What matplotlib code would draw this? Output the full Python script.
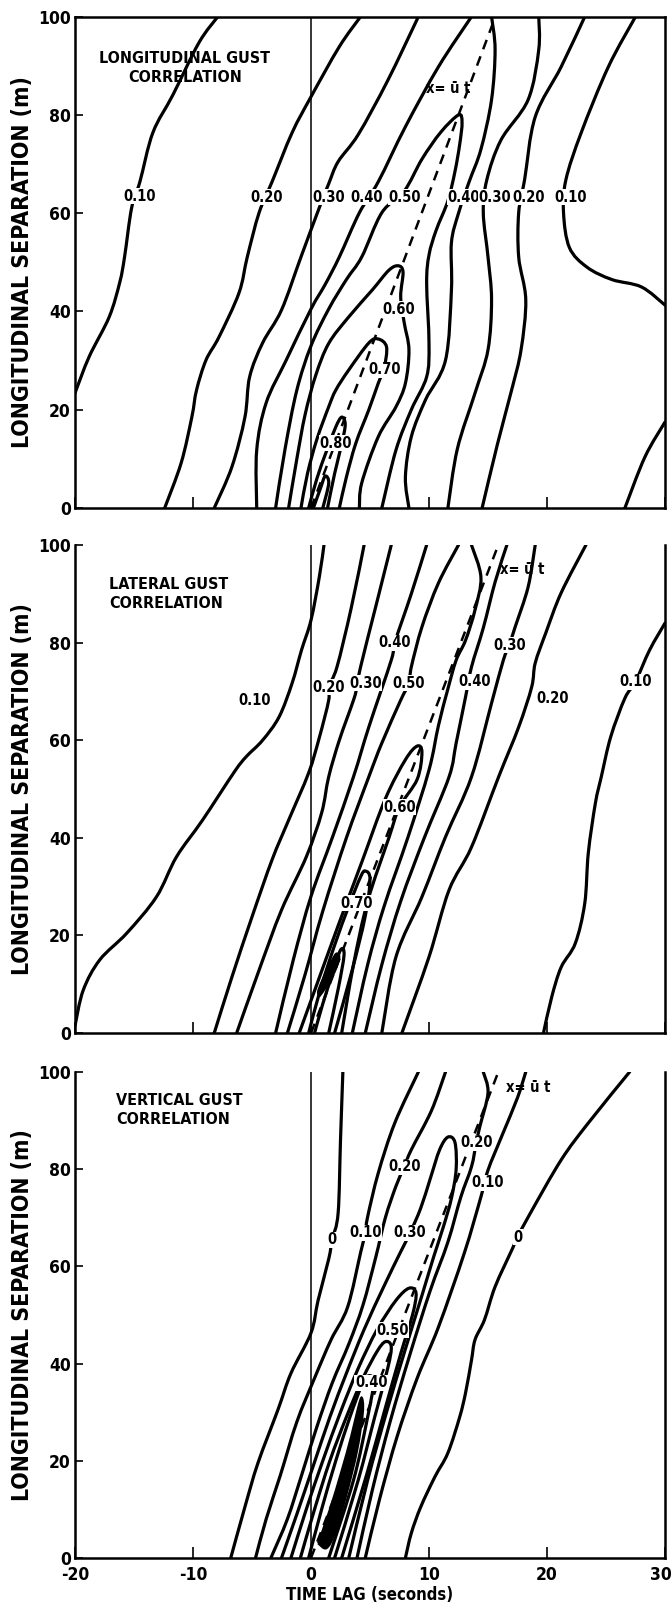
import matplotlib
matplotlib.use("Agg")
import numpy as np
import matplotlib.pyplot as plt
from matplotlib.path import Path
from matplotlib.patches import PathPatch
from matplotlib.transforms import ScaledTranslation

plt.rcParams["font.family"] = ["DejaVu Sans"]
plt.rcParams["font.weight"] = "bold"
plt.rcParams["font.stretch"] = "condensed"

# ---------------- longitudinal gust correlation (t [s], x [m]) ----------------
lon_010_a = [(-7.9, 100), (-9.5, 94.7), (-11.7, 84.1), (-13.4, 76.4), (-14.5, 66.4), (-15.2, 61.1),
             (-15.8, 51.1), (-16.2, 46), (-17.1, 38.9), (-18.8, 30.8), (-20, 23.4)]
lon_010_b = [(27.5, 100), (25.2, 89.8), (22.9, 76.4), (21.6, 66.8), (21.4, 60.1), (21.9, 53),
             (23.4, 49), (25.5, 46.5), (28, 45), (30, 41.3)]
lon_010_c = [(30, 17.5), (28.3, 10.4), (26.6, 0)]
lon_020_a = [(4.2, 100), (2.4, 93.9), (0, 83.7), (-1.6, 76.4), (-3.3, 66.4), (-4.4, 60.1), (-5.4, 51.1),
             (-6.1, 43.8), (-7.8, 34.8), (-8.9, 30.1), (-9.7, 24), (-10.1, 18.5), (-11, 9.2), (-12.4, 0)]
lon_020_b = [(23.2, 100), (21.2, 89.8), (19, 79.6), (18.1, 66.8), (17.6, 60.1), (17.6, 51.1), (18.2, 42.4),
             (17.8, 32.2), (17.0, 24), (15.8, 13), (14.5, 0)]
lon_030_a = [(9.1, 100), (6.5, 87), (4.0, 76), (2.3, 70.5), (1.5, 66), (0.7, 61.1), (-0.85, 51.1),
             (-2.5, 40.3), (-4.1, 33.6), (-5.2, 26.7), (-5.6, 18.5), (-6.7, 8.4), (-8.2, 0)]
lon_030_b = [(19.3, 100), (19.3, 93.3), (18.4, 83.1), (16.1, 74.9), (14.9, 66.8), (14.6, 60.1), (15, 51.1),
             (15.3, 42.4), (15, 32.2), (13.9, 23.4), (12.4, 12), (11.6, 0)]
lon_040_a = [(13.6, 100), (10.8, 89.8), (8.0, 77.6), (5.7, 66.4), (4.1, 60.1), (2.4, 51.1), (1.2, 45.5),
             (0, 40.5), (-2.1, 30.1), (-3.8, 21.4), (-4.6, 11.8), (-4.6, 0)]
lon_040_b = [(15.3, 100), (15.6, 93.3), (15.3, 83.1), (14.4, 73), (13.4, 66.4), (12.5, 60), (11.9, 54),
             (11.9, 44.4), (11.4, 30.1), (9.7, 22), (8.5, 14.5), (8.0, 6.3), (8.3, 0)]
lon_050 = [(-3.0, 0), (-2.2, 12), (-1.2, 24), (0, 33), (1.5, 40.5), (3.0, 46.5), (4.3, 51.1), (6.0, 60.1),
           (7.9, 64.5), (9.4, 71), (11.0, 76.5), (12.5, 80), (12.8, 78.5), (12.6, 74), (12.2, 68.5),
           (11.6, 62.5), (10.6, 56.5), (10, 51.5), (9.8, 45.8), (10, 33.6), (9.8, 26.7), (8.5, 20),
           (7.2, 11.8), (6.0, 0)]
lon_060 = [(-1.9, 0), (-1.2, 10), (-0.5, 19), (0.4, 27), (1.5, 33.5), (3.2, 38.9), (5.2, 44.4), (6.6, 48.4),
           (7.4, 49.3), (7.8, 48), (7.6, 43), (7.9, 37.7), (8.3, 32.2), (8.0, 25.4), (7.2, 20.6), (5.7, 14.5),
           (4.3, 5.1), (4.1, 0)]
lon_070 = [(-0.85, 0), (-0.3, 7), (0.5, 14), (1.5, 20.6), (2.1, 24), (3.2, 28.1), (4.9, 33.6), (5.7, 34.4),
           (6.4, 32.8), (6.2, 28.5), (5.7, 25.4), (4.9, 20), (3.8, 13.2), (3.0, 6.3), (2.4, 0)]
lon_080 = [(-0.2, 0), (0.5, 6), (1.3, 11.5), (2.1, 16.5), (2.6, 18.5), (2.9, 17), (2.6, 13), (2.0, 7), (1.4, 0)]
lon_090 = [(0.2, 0), (0.8, 4), (1.2, 6.5), (1.5, 5), (1.0, 0)]
lon_labels = [("0.10", -14.5, 63.5), ("0.20", -3.8, 63.3), ("0.30", 1.5, 63.3), ("0.40", 4.7, 63.3),
              ("0.50", 7.9, 63.3), ("0.40", 12.9, 63.3), ("0.30", 15.6, 63.3), ("0.20", 18.4, 63.3),
              ("0.10", 22.0, 63.3), ("0.60", 7.4, 40.5), ("0.70", 6.2, 28.1), ("0.80", 2.1, 13.2)]

# ---------------- lateral gust correlation ----------------
lat_010_a = [(1.1, 100), (0.7, 93.4), (0, 84.6), (-0.8, 78.5), (-1.6, 71.7), (-2.7, 64.8), (-4.1, 60),
             (-5.5, 56.6), (-6.5, 53.5), (-9.2, 43.6), (-11.4, 36.1), (-13.1, 27.9), (-15.6, 20.5),
             (-17.9, 15), (-19.3, 8.8), (-20, 1.5)]
lat_010_b = [(30, 84), (28.7, 78.5), (27.5, 72), (26.6, 68.6), (25.4, 60.7), (24.6, 52.5), (24.1, 47.1),
             (23.5, 36.9), (23.2, 26.6), (22.4, 18.4), (21.2, 13.5), (20.4, 7.4), (19.7, 0)]
lat_020_a = [(4.5, 100), (3.4, 87), (2.2, 75), (1.5, 70.9), (1.5, 68.2), (0.7, 60.5), (-0.2, 53.3),
             (-1.9, 43.6), (-3.3, 35.5), (-5, 23.8), (-6.7, 11.5), (-8.2, 0)]
lat_020_b = [(23.3, 100), (21.2, 90.2), (19.9, 82), (19, 75.8), (18.7, 70.9), (17.6, 62.7), (15.9, 52.5),
             (13.6, 38.1), (11.7, 29.3), (10, 15.6), (7.7, 0)]
lat_030_a = [(6.8, 100), (5.5, 87.5), (4.2, 75), (3.9, 71), (3.6, 68.2), (2.4, 60), (1.5, 52.5), (0.9, 45.1),
             (-0.4, 36.1), (-2.5, 25.2), (-4.4, 12.9), (-6.3, 0)]
lat_030_b = [(19, 100), (18.4, 91.4), (17.3, 83.2), (16.8, 79.5), (16.3, 76.4), (15.3, 67.6), (13.6, 52.5),
             (11.4, 40.2), (9.4, 27.9), (7.2, 15.6), (6, 0)]
lat_040_a = [(9.8, 100), (8.5, 90), (7.1, 80), (6.8, 76.4), (4.9, 62.7), (3.6, 52.5), (1.8, 40), (0, 28),
             (-1.5, 15), (-3.0, 0)]
lat_040_b = [(16.6, 100), (15.6, 92.4), (14.6, 83), (13.6, 75), (13.1, 68.9), (12.3, 59.4), (11.7, 52.5),
             (9.6, 40), (7.6, 27), (6.0, 14), (4.6, 0)]
lat_050_a = [(12.5, 100), (10.8, 92.2), (9.4, 83.2), (8.5, 75), (8.3, 71.7), (7.6, 68.2), (6, 59.4),
             (4.9, 52.5), (3, 40), (1, 25), (-0.5, 12), (-2.0, 0)]
lat_050_b = [(13.6, 100), (14.4, 93.4), (13.9, 86.7), (13.1, 80.5), (12.3, 76.4), (11.6, 70.5), (10.8, 63),
             (10, 53.9), (8.2, 40), (6.2, 26), (4.8, 14), (3.5, 0)]
lat_060 = [(-1.0, 0), (0.5, 10), (2.3, 22), (4.3, 35), (6.3, 48), (8.0, 56), (9.0, 58.8), (9.4, 57.5),
           (9.0, 52), (7.5, 46.3), (6.6, 40), (4.8, 27), (3.6, 14), (2.6, 0)]
lat_070 = [(-0.2, 0), (0.8, 9), (2.0, 18), (3.2, 26), (4.2, 32), (4.6, 33.2), (5.0, 31.5), (4.6, 24),
           (3.5, 13), (2.0, 0)]
lat_080 = [(0.3, 0), (1.0, 6), (1.8, 12), (2.5, 17), (2.8, 16), (2.3, 9), (1.5, 0)]
lat_blob = [(0.7, 7.5), (1.3, 9.5), (2.0, 12.5), (2.4, 15.5), (2.1, 16.2), (1.5, 13.5), (0.9, 10.5), (0.6, 8.5)]
lat_labels = [("0.10", -4.8, 68.2), ("0.20", 1.5, 70.9), ("0.30", 4.6, 71.7), ("0.40", 7.1, 80),
              ("0.50", 8.3, 71.7), ("0.40", 13.9, 72), ("0.30", 16.8, 79.5), ("0.20", 20.5, 68.6),
              ("0.10", 27.5, 72), ("0.60", 7.5, 46.3), ("0.70", 3.9, 26.6)]

# ---------------- vertical gust correlation ----------------
ver_000_a = [(2.7, 100), (2.5, 86), (2.3, 71), (1.8, 65.5), (1.5, 61.5), (0.6, 53), (0, 46.3), (-1.7, 38),
             (-2.8, 30.5), (-4.5, 19.5), (-5.6, 10.5), (-6.8, 0)]
ver_000_b = [(27, 100), (23.5, 89.5), (21.2, 81.9), (18.6, 71), (17.5, 66), (17.1, 63.8), (15.6, 55.8),
             (14.7, 49), (13.9, 44.9), (13.6, 40.7), (13.1, 34), (12.6, 29), (11.6, 21.6), (10.5, 16.7),
             (9.3, 10.5), (8.5, 5.1), (8, 0)]
ver_010_a = [(9.1, 100), (7.1, 89.5), (5.7, 79.2), (4.8, 70.2), (4.6, 66.9), (4.2, 62.8), (3.1, 51.6),
             (1.7, 44.9), (0.3, 37), (-1.2, 28), (-2.6, 17), (-3.8, 8), (-4.7, 0)]
ver_010_b = [(18.2, 100), (17.5, 94.7), (16.2, 87), (15, 79.8), (14.4, 74.3), (13, 62.8), (10.8, 47.5),
             (9, 37), (7.3, 25), (5.8, 12), (4.6, 0)]
ver_020_a = [(11.4, 100), (10.2, 92), (8.5, 84), (7.9, 80.5), (7.2, 76.5), (6.3, 70), (5.5, 62), (4.4, 52),
             (3.2, 44), (1.8, 36), (0.5, 27), (-0.8, 17), (-2.0, 8), (-3.4, 0)]
ver_020_b = [(14.6, 100), (15, 95.7), (14.3, 88.7), (14, 85.4), (13.6, 80.5), (12.7, 74.3), (11.6, 65),
             (10.1, 55), (8.4, 42), (6.7, 28), (5.2, 14), (3.9, 0)]
ver_030 = [(-2.5, 0), (-1.2, 9), (0.2, 19), (1.6, 29), (3.0, 38), (4.5, 47), (6.2, 56), (7.6, 63),
           (8.4, 66.9), (9.3, 72), (10.1, 78), (10.9, 84), (11.6, 86.6), (12.2, 85.5), (12.3, 80), (11.9, 74),
           (11.2, 68), (10.4, 62), (9.4, 54), (8.0, 43), (6.4, 30), (4.8, 16), (3.2, 0)]
ver_040 = [(-1.7, 0), (-0.4, 10), (1.0, 20), (2.5, 30), (4.0, 39), (5.6, 47), (7.2, 53), (8.3, 55.5),
           (8.9, 54.5), (8.6, 50), (7.6, 42), (6.2, 30), (4.7, 17), (2.6, 0)]
ver_050 = [(-0.9, 0), (0.3, 10), (1.6, 20), (3.0, 29), (4.4, 37), (5.6, 42.5), (6.3, 44.5), (6.8, 43.5),
           (6.5, 39), (5.4, 29), (4.0, 16), (2.0, 0)]
ver_060 = [(-0.2, 0), (0.9, 10), (2.1, 20), (3.3, 29), (4.3, 35.5), (4.9, 37.5), (5.3, 36), (4.8, 29),
           (3.6, 16), (1.5, 0)]
ver_blob = [(0.6, 3), (1.6, 10), (2.6, 18), (3.4, 25), (4.0, 31), (4.3, 33), (4.4, 30), (3.9, 22), (3.0, 13),
            (2.0, 5), (1.3, 2)]
ver_labels = [("0", 1.8, 65.5), ("0.10", 4.6, 66.9), ("0.30", 8.4, 66.9), ("0.20", 7.9, 80.5),
              ("0.20", 14.0, 85.4), ("0.10", 15.0, 77.2), ("0", 17.5, 66.0), ("0.50", 6.9, 46.9),
              ("0.40", 5.1, 36.0)]

u_bar = [6.4, 6.3, 6.3]
ut_label_pos = [(11.6, 85.3), (17.9, 94.9), (18.4, 96.9)]
titles = ["LONGITUDINAL GUST\nCORRELATION", "LATERAL GUST\nCORRELATION", "VERTICAL GUST\nCORRELATION"]
title_pos = [(-10.7, 89.5), (-17.1, 90.0), (-16.5, 92.2)]
y_ticks = [0, 20, 40, 60, 80, 100]
x_ticks = [-20, -10, 0, 10, 20, 30]


def smooth_path(pts):
    # Catmull-Rom through the traced points, drawn as cubic Bezier segments
    p = np.asarray(pts, dtype=float)
    if len(p) < 3:
        return Path(p)
    ext = np.vstack([p[0], p, p[-1]])
    verts = [p[0]]
    codes = [Path.MOVETO]
    for k in range(1, len(ext) - 2):
        p0, p1, p2, p3 = ext[k - 1], ext[k], ext[k + 1], ext[k + 2]
        verts += [p1 + (p2 - p0) / 6, p2 - (p3 - p1) / 6, p2]
        codes += [Path.CURVE4] * 3
    return Path(verts, codes)


panels = [
    ([lon_010_a, lon_010_b, lon_010_c, lon_020_a, lon_020_b, lon_030_a, lon_030_b, lon_040_a, lon_040_b,
      lon_050, lon_060, lon_070, lon_080, lon_090], [], lon_labels),
    ([lat_010_a, lat_010_b, lat_020_a, lat_020_b, lat_030_a, lat_030_b, lat_040_a, lat_040_b, lat_050_a,
      lat_050_b, lat_060, lat_070, lat_080], [lat_blob], lat_labels),
    ([ver_000_a, ver_000_b, ver_010_a, ver_010_b, ver_020_a, ver_020_b, ver_030, ver_040, ver_050, ver_060],
     [ver_blob], ver_labels),
]

fig = plt.figure(figsize=(6.72, 16.21), dpi=100)
boxes = [(0.1116, 0.6866, 0.878, 0.3031), (0.1116, 0.3627, 0.878, 0.3011), (0.1116, 0.0389, 0.878, 0.2998)]

for i, (lines, blobs, labels) in enumerate(panels):
    ax = fig.add_axes(boxes[i])
    ax.set_xlim(-20, 30)
    ax.set_ylim(0, 100)
    for side in ["left", "right", "bottom", "top"]:
        ax.spines[side].set_linewidth(1.8)
    if i > 0:
        ax.spines["top"].set_visible(False)

    ax.axvline(0, color="black", lw=1.1, zorder=1)
    for pts in lines:
        ax.add_patch(PathPatch(smooth_path(pts), facecolor="none", edgecolor="black", lw=2.3,
                               capstyle="round", joinstyle="round", zorder=2))
    for pts in blobs:
        ax.add_patch(PathPatch(smooth_path(pts + pts[:1]), facecolor="black", edgecolor="black", lw=1.5,
                               zorder=2))

    # x = u t line
    t_end = 100 / u_bar[i]
    ax.plot([0, t_end], [0, 100], color="black", lw=1.8, dashes=(4, 3), zorder=3)
    ax.text(ut_label_pos[i][0], ut_label_pos[i][1], "x= ū t", fontsize=10.5, fontweight="bold",
            ha="center", va="center", zorder=6)

    for txt, t, x in labels:
        ax.text(t, x, txt, fontsize=10.5, fontweight="bold", ha="center", va="center", zorder=6,
                bbox={"facecolor": "white", "edgecolor": "none", "pad": 0.3})

    tx, ty = title_pos[i]
    ax.text(tx, ty, titles[i], fontsize=11.5, fontweight="bold", va="center",
            ha="center" if i == 0 else "left", linespacing=1.3, zorder=6)

    ax.set_yticks(y_ticks)
    ax.set_yticklabels([str(v) for v in y_ticks], fontsize=12.5, fontweight="bold")
    ax.set_xticks(x_ticks)
    ax.tick_params(axis="y", direction="in", length=6, width=1.2, pad=3)
    ax.tick_params(axis="x", direction="in", length=8, width=1.2, pad=6)
    if i < 2:
        ax.set_xticklabels([])
    else:
        ax.set_xticklabels([str(v) for v in x_ticks], fontsize=12.5, fontweight="bold")
        ax.set_xlabel("TIME LAG (seconds)", fontsize=12, fontweight="bold", labelpad=1)
        # keep the last tick label ("30") inside the figure edge
        last = ax.xaxis.get_major_ticks()[-1].label1
        last.set_transform(last.get_transform() + ScaledTranslation(-3 / 72, 0, fig.dpi_scale_trans))
    ax.set_ylabel("LONGITUDINAL SEPARATION (m)", fontsize=16.5, fontweight="bold")
    ax.yaxis.set_label_coords(-0.07, 0.5)

fig.savefig("out.png", dpi=100)
